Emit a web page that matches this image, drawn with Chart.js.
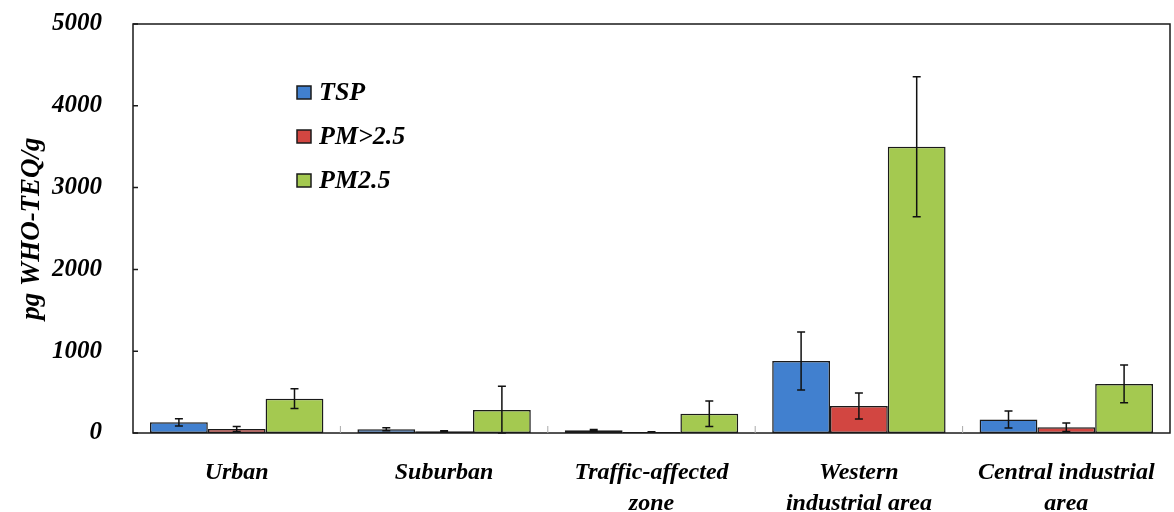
<!DOCTYPE html>
<html>
<head>
<meta charset="utf-8">
<script src="https://cdn.jsdelivr.net/npm/chart.js@4"></script>
<style>
  html, body { margin: 0; padding: 0; background: #fff; }
  #wrap { width: 1174px; height: 512px; }
</style>
</head>
<body>
<div id="wrap"><canvas id="myChart" width="1174" height="512"></canvas></div>
<script>
const sites = [['Urban'], ['Suburban'], ['Traffic-affected', 'zone'], ['Western', 'industrial area'], ['Central industrial', 'area']];
const tsp = [130, 45, 33, 880, 165];
const tspErr = [45, 18, 10, 355, 105];
const pmCoarse = [48, 20, 12, 330, 70];
const pmCoarseErr = [30, 8, 4, 160, 52];
const pmFine = [420, 280, 235, 3500, 600];
const pmFineErr = [122, 290, 157, 855, 230];
const yTicks = [0, 1000, 2000, 3000, 4000, 5000];

const serif = '"Liberation Serif", "Times New Roman", serif';

// error bars, drawn from the bar positions and the y scale
const errorBars = {
  id: 'errorBars',
  afterDatasetsDraw(chart) {
    const ctx = chart.ctx;
    const y = chart.scales.y;
    ctx.save();
    ctx.strokeStyle = '#111';
    ctx.lineWidth = 1.5;
    chart.data.datasets.forEach((ds, di) => {
      const meta = chart.getDatasetMeta(di);
      meta.data.forEach((bar, i) => {
        const v = ds.data[i], e = ds.errors[i];
        const top = y.getPixelForValue(v + e);
        const bot = y.getPixelForValue(Math.max(v - e, 0));
        ctx.beginPath();
        ctx.moveTo(bar.x, top); ctx.lineTo(bar.x, bot);
        ctx.moveTo(bar.x - 4, top); ctx.lineTo(bar.x + 4, top);
        ctx.moveTo(bar.x - 4, bot); ctx.lineTo(bar.x + 4, bot);
        ctx.stroke();
      });
    });
    ctx.restore();
  }
};

// frame, inward ticks and legend inside the plot
const frame = {
  id: 'frame',
  afterDraw(chart) {
    const ctx = chart.ctx;
    const a = chart.chartArea;
    const y = chart.scales.y, x = chart.scales.x;
    ctx.save();
    ctx.strokeStyle = '#1a1a1a';
    ctx.lineWidth = 1.5;
    ctx.strokeRect(a.left, a.top, a.right - a.left, a.bottom - a.top);
    ctx.beginPath();
    yTicks.forEach(t => {
      const py = y.getPixelForValue(t);
      ctx.moveTo(a.left, py); ctx.lineTo(a.left + 5, py);
    });
    ctx.stroke();
    ctx.strokeStyle = '#aaa';
    ctx.lineWidth = 1;
    ctx.beginPath();
    for (let i = 1; i < sites.length; i++) {
      const px = (x.getPixelForValue(i - 1) + x.getPixelForValue(i)) / 2;
      ctx.moveTo(px, a.bottom); ctx.lineTo(px, a.bottom - 7);
    }
    ctx.stroke();

    // legend
    ctx.font = 'italic bold 26px ' + serif;
    ctx.textBaseline = 'middle';
    chart.data.datasets.forEach((ds, i) => {
      const ly = a.top + 68 + i * 44;
      const lx = a.left + 164;
      ctx.fillStyle = ds.backgroundColor;
      ctx.fillRect(lx, ly - 6, 14, 13);
      ctx.strokeStyle = '#1a1a1a';
      ctx.lineWidth = 1.5;
      ctx.strokeRect(lx, ly - 6, 14, 13);
      ctx.fillStyle = '#000';
      ctx.fillText(ds.label, lx + 22, ly + 1);
    });
    ctx.restore();
  }
};

const ctx = document.getElementById('myChart').getContext('2d');
const myChart = new Chart(ctx, {
  type: 'bar',
  data: {
    labels: sites,
    datasets: [
      { label: 'TSP', data: tsp, errors: tspErr, backgroundColor: '#4180cf' },
      { label: 'PM>2.5', data: pmCoarse, errors: pmCoarseErr, backgroundColor: '#d24641' },
      { label: 'PM2.5', data: pmFine, errors: pmFineErr, backgroundColor: '#a4c950' }
    ].map(d => Object.assign(d, { borderColor: '#1a1a1a', borderWidth: 1.5, borderSkipped: false }))
  },
  options: {
    responsive: false,
    animation: false,
    layout: { padding: { left: 0, right: 4, top: 24, bottom: 0 } },
    categoryPercentage: 0.836,
    barPercentage: 1,
    plugins: {
      legend: { display: false },
      tooltip: { enabled: false }
    },
    scales: {
      x: {
        grid: { display: false },
        border: { display: false },
        ticks: {
          color: '#000',
          padding: 16,
          font: { family: serif, size: 24, style: 'italic', weight: 'bold', lineHeight: 1.3 },
          maxRotation: 0,
          autoSkip: false
        },
        afterFit(s) { s.height = 79; }
      },
      y: {
        min: 0,
        max: 5000,
        grid: { display: false, tickLength: 31 },
        border: { display: false },
        afterBuildTicks(s) { s.ticks = yTicks.map(v => ({ value: v })); },
        ticks: {
          color: '#000',
          padding: 0,
          callback: v => String(v),
          font: { family: serif, size: 25, style: 'italic', weight: 'bold', lineHeight: 1 }
        },
        title: {
          display: true,
          text: 'pg WHO-TEQ/g',
          color: '#000',
          padding: { top: 16, bottom: 0 },
          font: { family: serif, size: 27, style: 'italic', weight: 'bold' }
        },
        afterFit(s) { s.width = 133; }
      }
    }
  },
  plugins: [errorBars, frame]
});
</script>
</body>
</html>
